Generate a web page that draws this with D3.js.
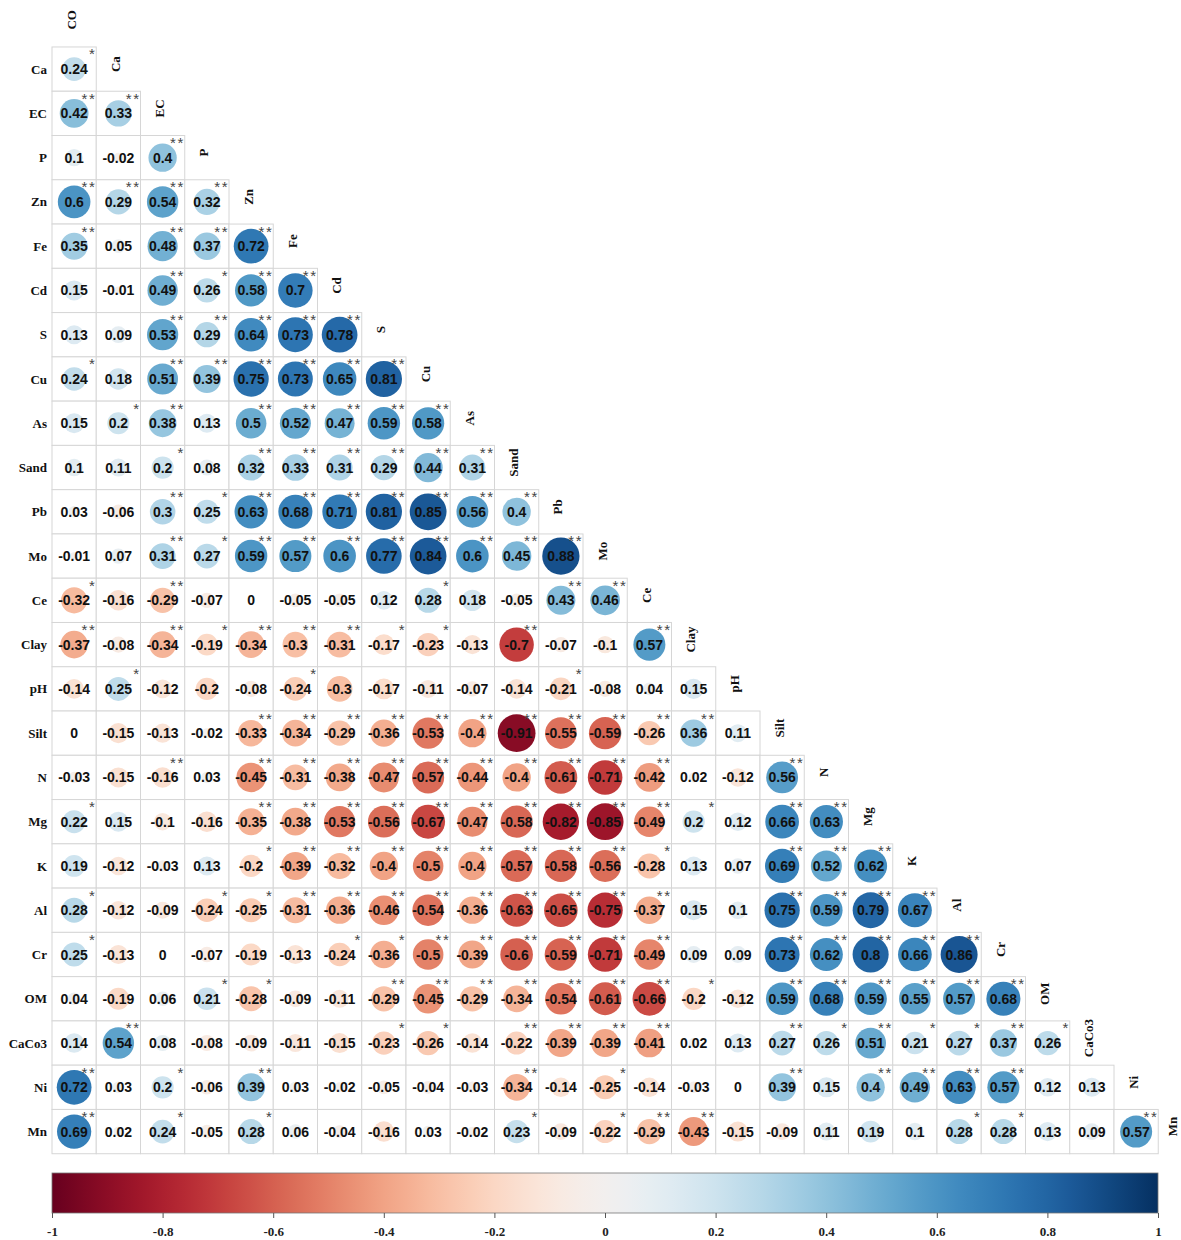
<!DOCTYPE html>
<html><head><meta charset="utf-8">
<script src="https://cdn.jsdelivr.net/npm/d3@7"></script>
<style>body{margin:0;background:#fff;} svg{display:block;}</style>
</head><body><svg id="chart" width="1181" height="1240"></svg>
<script>
const variables = ["CO","Ca","EC","P","Zn","Fe","Cd","S","Cu","As","Sand","Pb","Mo","Ce","Clay","pH","Silt","N","Mg","K","Al","Cr","OM","CaCo3","Ni","Mn"];

// lower-triangle correlation values, row i+1 vs columns 0..i
const corrRows = [
  [0.24],
  [0.42,0.33],
  [0.1,-0.02,0.4],
  [0.6,0.29,0.54,0.32],
  [0.35,0.05,0.48,0.37,0.72],
  [0.15,-0.01,0.49,0.26,0.58,0.7],
  [0.13,0.09,0.53,0.29,0.64,0.73,0.78],
  [0.24,0.18,0.51,0.39,0.75,0.73,0.65,0.81],
  [0.15,0.2,0.38,0.13,0.5,0.52,0.47,0.59,0.58],
  [0.1,0.11,0.2,0.08,0.32,0.33,0.31,0.29,0.44,0.31],
  [0.03,-0.06,0.3,0.25,0.63,0.68,0.71,0.81,0.85,0.56,0.4],
  [-0.01,0.07,0.31,0.27,0.59,0.57,0.6,0.77,0.84,0.6,0.45,0.88],
  [-0.32,-0.16,-0.29,-0.07,0,-0.05,-0.05,0.12,0.28,0.18,-0.05,0.43,0.46],
  [-0.37,-0.08,-0.34,-0.19,-0.34,-0.3,-0.31,-0.17,-0.23,-0.13,-0.7,-0.07,-0.1,0.57],
  [-0.14,0.25,-0.12,-0.2,-0.08,-0.24,-0.3,-0.17,-0.11,-0.07,-0.14,-0.21,-0.08,0.04,0.15],
  [0,-0.15,-0.13,-0.02,-0.33,-0.34,-0.29,-0.36,-0.53,-0.4,-0.91,-0.55,-0.59,-0.26,0.36,0.11],
  [-0.03,-0.15,-0.16,0.03,-0.45,-0.31,-0.38,-0.47,-0.57,-0.44,-0.4,-0.61,-0.71,-0.42,0.02,-0.12,0.56],
  [0.22,0.15,-0.1,-0.16,-0.35,-0.38,-0.53,-0.56,-0.67,-0.47,-0.58,-0.82,-0.85,-0.49,0.2,0.12,0.66,0.63],
  [0.19,-0.12,-0.03,0.13,-0.2,-0.39,-0.32,-0.4,-0.5,-0.4,-0.57,-0.58,-0.56,-0.28,0.13,0.07,0.69,0.52,0.62],
  [0.28,-0.12,-0.09,-0.24,-0.25,-0.31,-0.36,-0.46,-0.54,-0.36,-0.63,-0.65,-0.75,-0.37,0.15,0.1,0.75,0.59,0.79,0.67],
  [0.25,-0.13,0,-0.07,-0.19,-0.13,-0.24,-0.36,-0.5,-0.39,-0.6,-0.59,-0.71,-0.49,0.09,0.09,0.73,0.62,0.8,0.66,0.86],
  [0.04,-0.19,0.06,0.21,-0.28,-0.09,-0.11,-0.29,-0.45,-0.29,-0.34,-0.54,-0.61,-0.66,-0.2,-0.12,0.59,0.68,0.59,0.55,0.57,0.68],
  [0.14,0.54,0.08,-0.08,-0.09,-0.11,-0.15,-0.23,-0.26,-0.14,-0.22,-0.39,-0.39,-0.41,0.02,0.13,0.27,0.26,0.51,0.21,0.27,0.37,0.26],
  [0.72,0.03,0.2,-0.06,0.39,0.03,-0.02,-0.05,-0.04,-0.03,-0.34,-0.14,-0.25,-0.14,-0.03,0,0.39,0.15,0.4,0.49,0.63,0.57,0.12,0.13],
  [0.69,0.02,0.24,-0.05,0.28,0.06,-0.04,-0.16,0.03,-0.02,0.23,-0.09,-0.22,-0.29,-0.43,-0.15,-0.09,0.11,0.19,0.1,0.28,0.28,0.13,0.09,0.57]
];

// significance stars (0 none, 1 "*", 2 "**")
const sigRows = [
  [1],
  [2,2],
  [0,0,2],
  [2,2,2,2],
  [2,0,2,2,2],
  [0,0,2,1,2,2],
  [0,0,2,2,2,2,2],
  [1,0,2,2,2,2,2,2],
  [0,1,2,0,2,2,2,2,2],
  [0,0,1,0,2,2,2,2,2,2],
  [0,0,2,1,2,2,2,2,2,2,2],
  [0,0,2,1,2,2,2,2,2,2,2,2],
  [1,0,2,0,0,0,0,0,1,0,0,2,2],
  [2,0,2,1,2,2,2,1,1,0,2,0,0,2],
  [0,1,0,0,0,1,0,0,0,0,0,1,0,0,0],
  [0,0,0,0,2,2,2,2,2,2,2,2,2,2,2,0],
  [0,0,2,0,2,2,2,2,2,2,2,2,2,2,0,0,2],
  [1,0,0,0,2,2,2,2,2,2,2,2,2,2,1,0,2,2],
  [0,0,0,0,1,2,2,2,2,2,2,2,2,1,0,0,2,2,2],
  [1,0,0,1,1,2,2,2,2,2,2,2,2,2,0,0,2,2,2,2],
  [1,0,0,0,0,0,1,1,2,2,2,2,2,2,0,0,2,2,2,2,2],
  [0,0,0,1,1,0,0,2,2,2,2,2,2,2,1,0,2,2,2,2,2,2],
  [0,2,0,0,0,0,0,1,1,0,2,2,2,2,0,0,2,1,2,1,1,2,1],
  [2,0,1,0,2,0,0,0,0,0,2,0,1,0,0,0,2,0,2,2,2,2,0,0],
  [2,0,1,0,1,0,0,0,0,0,1,0,1,2,2,0,0,0,0,0,1,1,0,0,2]
];

const colorbarTicks = [-1,-0.8,-0.6,-0.4,-0.2,0,0.2,0.4,0.6,0.8,1];
const colorbarTickLabels = ["-1","-0.8","-0.6","-0.4","-0.2","0","0.2","0.4","0.6","0.8","1"];

const svg = d3.select("#chart");
const cw = 44.25, ch = 44.27;
const x = d3.scaleBand().domain(variables).range([52, 52 + cw*variables.length]);
const y = d3.scaleBand().domain(variables).range([2.7, 2.7 + ch*variables.length]);
const color = v => d3.interpolateRdBu((v + 1) / 2);
const rScale = d3.scalePow().exponent(0.35).domain([0,1]).range([0,19.5]);

const cells = [];
corrRows.forEach((row, ri) => {
  row.forEach((v, j) => {
    cells.push({row: variables[ri+1], col: variables[j], v, sig: sigRows[ri][j]});
  });
});

const g = svg.append("g");
const cg = g.selectAll("g.cell").data(cells).join("g").attr("class","cell")
  .attr("transform", d => `translate(${x(d.col)},${y(d.row)})`);

cg.append("rect").attr("width", x.bandwidth()).attr("height", y.bandwidth())
  .attr("fill","#fff").attr("stroke","#d6d6d6").attr("stroke-width",1);

cg.append("circle").attr("cx", x.bandwidth()/2).attr("cy", y.bandwidth()/2)
  .attr("r", d => rScale(Math.abs(d.v))).attr("fill", d => color(d.v));

cg.append("text").attr("x", x.bandwidth()/2).attr("y", y.bandwidth()/2)
  .attr("dy","0.36em").attr("text-anchor","middle")
  .attr("font-family","'Liberation Sans', Arial, sans-serif").attr("font-size",14).attr("font-weight","bold")
  .attr("fill","#111").text(d => String(d.v));

cg.filter(d => d.sig > 0).append("text")
  .attr("x", x.bandwidth() + 0.5).attr("y", 12.5).attr("text-anchor","end")
  .attr("font-family","'Liberation Sans', Arial, sans-serif").attr("font-size",15)
  .attr("letter-spacing","1.8px").attr("fill","#444")
  .text(d => "*".repeat(d.sig));

// row labels
g.selectAll("text.rowlab").data(variables.slice(1)).join("text").attr("class","rowlab")
  .attr("x", 47).attr("y", d => y(d) + y.bandwidth()/2).attr("dy","0.35em")
  .attr("text-anchor","end").attr("font-family","'Liberation Serif', 'Times New Roman', serif")
  .attr("font-weight","bold").attr("font-size",13).attr("fill","#111").text(d => d);

// diagonal labels
g.selectAll("text.diag").data(variables).join("text").attr("class","diag")
  .attr("transform", d => `translate(${Math.min(x(d) + x.bandwidth()/2 - 3, 1172)},${y(d) + y.bandwidth()/2 - 5}) rotate(-90)`)
  .attr("dy","0.35em").attr("text-anchor","middle")
  .attr("font-family","'Liberation Serif', 'Times New Roman', serif")
  .attr("font-weight","bold").attr("font-size",13).attr("fill","#111").text(d => d);

// colorbar
const cb = d3.scaleLinear().domain([-1,1]).range([52,1158]);
const defs = svg.append("defs");
const grad = defs.append("linearGradient").attr("id","cbgrad").attr("x1","0%").attr("x2","100%");
d3.range(0, 1.0001, 0.02).forEach(t => {
  grad.append("stop").attr("offset", (t*100)+"%").attr("stop-color", d3.interpolateRdBu(t));
});
svg.append("rect").attr("x", cb(-1)).attr("y", 1173).attr("width", cb(1)-cb(-1)).attr("height", 40)
  .attr("fill","url(#cbgrad)").attr("stroke","#777").attr("stroke-width",0.8);

const axis = d3.axisBottom(cb).tickValues(colorbarTicks)
  .tickFormat((d,i) => colorbarTickLabels[i]).tickSize(5).tickPadding(9);
const ax = svg.append("g").attr("transform","translate(0,1213)").call(axis);
ax.select(".domain").remove();
ax.selectAll(".tick line").attr("stroke","#555");
ax.selectAll(".tick text").attr("font-family","'Liberation Serif', 'Times New Roman', serif")
  .attr("font-weight","bold").attr("font-size",13).attr("fill","#222");
</script></body></html>
